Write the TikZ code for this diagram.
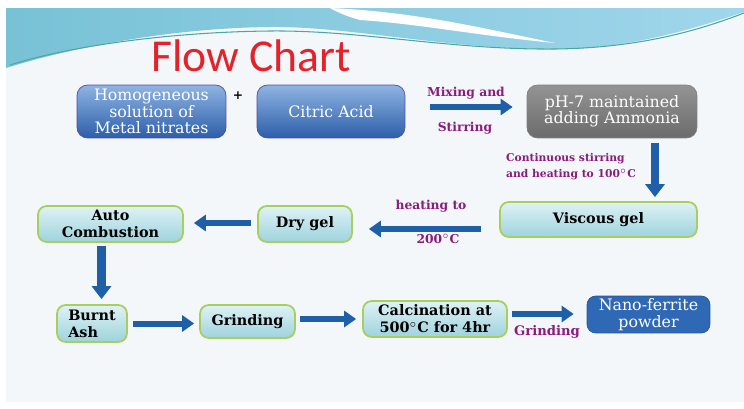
\documentclass[tikz,border=0pt]{standalone}
\usepackage{fontspec}
\setmainfont{DejaVu Serif}
\newfontfamily\titlefont{Carlito}
\usetikzlibrary{positioning,calc,arrows.meta}
\definecolor{arrowblue}{HTML}{1F5FA8}
\definecolor{labelpurple}{HTML}{8B1C7C}
\definecolor{titlered}{HTML}{E3232B}
\definecolor{slidebg}{HTML}{F3F7FA}
\definecolor{limeedge}{HTML}{A8CF5C}
\tikzstyle{bluebox} = [rounded corners=6pt, inner sep=0pt, draw=blue!50!black!70, top color={rgb,255:red,143;green,180;blue,226}, bottom color={rgb,255:red,44;green,94;blue,169}, text=white, align=center, font=\fontsize{9}{9.2}\selectfont]
\tikzstyle{graybox} = [rounded corners=6pt, inner sep=0pt, draw=black!50, top color=black!42, bottom color=black!58, text=white, align=center, font=\fontsize{9}{9.2}\selectfont]
\tikzstyle{gelbox} = [rounded corners=5pt, inner sep=0pt, draw=limeedge, line width=1pt, top color={rgb,255:red,222;green,242;blue,245}, bottom color={rgb,255:red,158;green,211;blue,221}, align=center, font=\bfseries\fontsize{8.2}{9.7}\selectfont]
\tikzstyle{endbox} = [rounded corners=5pt, inner sep=0pt, draw={rgb,255:red,38;green,86;blue,158}, fill={rgb,255:red,47;green,104;blue,181}, text=white, align=center, font=\fontsize{9}{9.4}\selectfont]
\tikzstyle{steplabel} = [text=labelpurple, font=\bfseries\fontsize{7}{8}\selectfont]
\tikzstyle{arrow} = [arrowblue, line width=0.12cm, -{Triangle[width=0.32cm,length=0.24cm]}]
\tikzstyle{downarrow} = [arrowblue, line width=0.17cm, -{Triangle[width=0.38cm,length=0.26cm]}]

\begin{document}
\begin{tikzpicture}[x=0.02cm, y=-0.02cm]
      % slide background and banner
      \fill[white] (0,0) rectangle (744,409);
      \useasboundingbox (0,0) rectangle (744,409);
      \fill[slidebg] (6,8) rectangle (744,402);
      \shade[left color={rgb,255:red,120;green,194;blue,214}, right color={rgb,255:red,160;green,214;blue,236}]
      (6,8) -- (744,8) -- (744,12) .. controls (690,30) and (630,48) .. (560,49)
      .. controls (450,50) and (350,26) .. (270,27) .. controls (170,28) and (70,48) .. (6,68) -- cycle;
      \fill[white] (330,8) .. controls (420,12) and (490,30) .. (555,43) .. controls (480,36) and (420,24) .. (360,20) .. controls (345,16) and (335,11) .. (330,8);
      \draw[teal!70, line width=0.6pt] (10,65) .. controls (70,46) and (170,32) .. (270,31) .. controls (360,30) and (450,50) .. (555,49) .. controls (640,48) and (700,30) .. (744,13);
      \node[text=titlered, font=\titlefont\fontsize{26}{26}\selectfont] (title) at (251,56) {Flow Chart};
      \node[bluebox, minimum width=2.98cm, minimum height=1.06cm] (homog) at (151.5,111.5) {Homogeneous\\solution of\\Metal nitrates};
      \node (plus) at (238,96) {\scriptsize\bfseries +};
      \node[bluebox, minimum width=2.96cm, minimum height=1.06cm] (citric) at (331,111.5) {Citric Acid};
      \node[graybox, minimum width=3.4cm, minimum height=1.06cm] (ph) at (612,111.5) {pH-7 maintained\\adding Ammonia};
      \node[gelbox, minimum width=3.94cm, minimum height=0.7cm] (viscous) at (598.5,219.5) {Viscous gel};
      \node[gelbox, minimum width=1.88cm, minimum height=0.72cm] (drygel) at (305,224) {Dry gel};
      \node[gelbox, minimum width=2.9cm, minimum height=0.72cm] (auto) at (110.5,224) {Auto\\Combustion};
      \node[gelbox, minimum width=1.4cm, minimum height=0.74cm, align=left] (burnt) at (92,323.5) {Burnt\\Ash};
      \node[gelbox, minimum width=1.9cm, minimum height=0.66cm] (grind) at (247.5,321.5) {Grinding};
      \node[gelbox, minimum width=2.88cm, minimum height=0.72cm] (calc) at (435,319) {Calcination at\\500$^\circ$C for 4hr};
      \node[endbox, minimum width=2.46cm, minimum height=0.74cm] (nano) at (648.5,314.5) {Nano-ferrite\\powder};
      % labels on the steps
      \node[steplabel] (mix) at (466,93) {Mixing and};
      \node[steplabel] (stirring) at (465,128) {Stirring};
      \node[steplabel, align=left, anchor=west, font=\bfseries\fontsize{6.1}{9}\selectfont] (stir) at (500,167) {Continuous stirring\\and heating to 100$^\circ$C};
      \node[steplabel] (heat) at (431,206) {heating to};
      \node[steplabel] (temp) at (438,239) {200$^\circ$C};
      \node[steplabel, font=\bfseries\fontsize{7.5}{8}\selectfont] (grind2) at (547,332) {Grinding};
      % arrows
      \coordinate (mixout) at ($(citric.east)+(0,-4.5)$);
      \coordinate (phdrop) at ($(ph.south)+(43,0)$);
      \coordinate (gelout) at ($(viscous.west)+(0,9.5)$);
      \coordinate (dryout) at ($(drygel.west)+(0,-1)$);
      \coordinate (autodrop) at ($(auto.south)+(-9,0)$);
      \coordinate (grindout) at ($(grind.east)+(0,-2.5)$);
      \coordinate (calcout) at ($(calc.east)+(0,-5)$);
      \draw[arrow, shorten <=0.5cm, shorten >=0.28cm] (mixout) -- (mixout -| ph.west);
      \draw[downarrow, shorten <=0.1cm, shorten >=0.08cm] (phdrop) -- (phdrop |- viscous.north);
      \draw[arrow, shorten <=0.36cm, shorten >=0.32cm] (gelout) -- (gelout -| drygel.east);
      \draw[arrow, shorten <=0.12cm, shorten >=0.2cm] (dryout) -- (dryout -| auto.east);
      \draw[downarrow, shorten <=0.06cm, shorten >=0.1cm] (autodrop) -- (autodrop |- burnt.north);
      \draw[arrow, shorten <=0.1cm, shorten >=0.1cm] (burnt.east) -- (burnt.east -| grind.west);
      \draw[arrow, shorten <=0.08cm, shorten >=0.12cm] (grindout) -- (grindout -| calc.west);
      \draw[arrow, shorten <=0.08cm, shorten >=0.26cm] (calcout) -- (calcout -| nano.west);
\end{tikzpicture}
\end{document}
